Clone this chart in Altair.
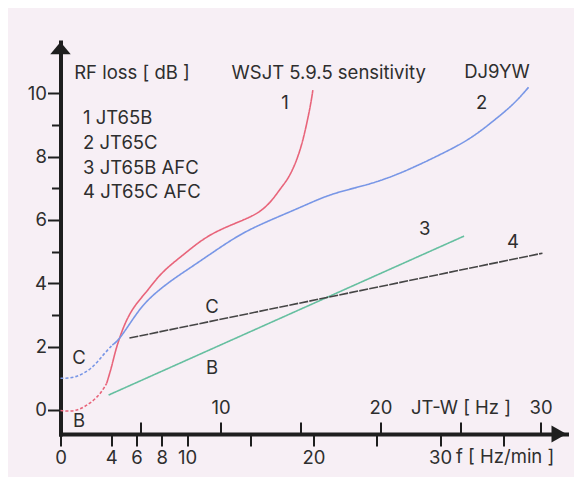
import altair as alt
import pandas as pd

# ---------------- data ----------------
# curve 1 : JT65B (red), dashed start then solid
RED_DASH_F = [0.0, 0.9, 1.6, 2.3, 3.1, 3.65]
RED_DASH_V = [-0.02, -0.05, 0.03, 0.2, 0.47, 0.84]
RED_F = [3.65, 4.05, 4.3, 4.6, 5.1, 5.7, 6.4, 7.1, 7.7, 8.6, 9.5, 11.1, 12.6, 14.5, 15.8, 16.7, 17.4, 18.0, 18.6, 19.1, 19.5, 19.8, 19.95]
RED_V = [0.84, 1.37, 1.8, 2.2, 2.75, 3.2, 3.55, 3.88, 4.2, 4.55, 4.83, 5.36, 5.7, 6.0, 6.25, 6.6, 7.0, 7.3, 7.8, 8.4, 9.1, 9.7, 10.1]
# curve 2 : JT65C (blue)
BLUE_DASH_F = [0.0, 0.6, 1.2, 1.8, 2.4, 3.0, 3.5, 4.1]
BLUE_DASH_V = [1.0, 1.0, 1.04, 1.15, 1.3, 1.55, 1.8, 2.05]
BLUE_F = [4.1, 4.6, 5.6, 6.3, 7.1, 8.6, 10.3, 12.2, 14.3, 16.6, 19.0, 21.4, 24.3, 26.9, 29.6, 32.3, 34.3, 35.9, 37.0]
BLUE_V = [2.05, 2.2, 2.8, 3.2, 3.56, 4.05, 4.5, 5.02, 5.58, 6.0, 6.4, 6.84, 7.1, 7.47, 7.98, 8.52, 9.15, 9.68, 10.19]
# curve 3 : JT65B AFC (green)
GREEN_F = [3.8, 31.9]
GREEN_V = [0.47, 5.49]
# curve 4 : JT65C AFC (dark grey)
GREY_F = [5.45, 38.1]
GREY_V = [2.27, 4.95]

CURVES = ["1", "2", "3", "4"]
CURVE_COLORS = ["#e8647a", "#7896e6", "#66bfa0", "#454545"]

# axes
F_TICKS = [0, 4, 6, 8, 10, 15, 20, 25, 30, 35]
F_LABELLED = [0, 4, 6, 8, 10, 20, 30]
F_TITLE = "f [ Hz/min ]"
F_TITLE_AT = 35.15
HZ_TICKS = [5, 10, 15, 20, 25, 30]
HZ_TITLE = "JT-W [ Hz ]"
Y_TICKS = [0, 2, 3, 4, 5, 6, 7, 8, 9, 10]
X_DOMAIN = [0, 40]
HZ_DOMAIN = [0, 31.625]
Y_DOMAIN = [-0.76, 11.62]

# annotations
CENTER_TEXT = ["RF loss [ dB ]", "WSJT 5.9.5 sensitivity", "DJ9YW", "1", "2", "3", "4", "C", "B", "C", "B"]
CENTER_F = [5.65, 21.2, 34.5, 17.75, 33.3, 28.8, 35.77, 1.46, 1.46, 11.98, 11.98]
CENTER_V = [10.64, 10.64, 10.68, 9.70, 9.70, 5.72, 5.31, 1.64, -0.35, 3.25, 1.33]
LEGEND_TEXT = ["1 JT65B", "2 JT65C", "3 JT65B AFC", "4 JT65C AFC"]
LEGEND_F = [1.78, 1.78, 1.78, 1.78]
LEGEND_V = [9.22, 8.43, 7.64, 6.89]

FONT = "Inter"
FS = 18.5
TXT = "#2e2e2e"
AX = "#1e1e1e"
BG = "#f7eff5"
TICK = 12
PAD = 2

# ---------------- tables ----------------
rows = []
def add(seg, curve, style, fs, vs):
    for i, (f, v) in enumerate(zip(fs, vs)):
        rows.append({"seg": seg, "curve": curve, "style": style, "i": i, "f": f, "v": v})

add("1d", "1", "dash", RED_DASH_F, RED_DASH_V)
add("1s", "1", "solid", RED_F, RED_V)
add("2d", "2", "dash", BLUE_DASH_F, BLUE_DASH_V)
add("2s", "2", "solid", BLUE_F, BLUE_V)
add("3s", "3", "solid", GREEN_F, GREEN_V)
add("4s", "4", "fine", GREY_F, GREY_V)
lines_df = pd.DataFrame(rows)

center_df = pd.DataFrame({"t": CENTER_TEXT, "f": CENTER_F, "v": CENTER_V})
legend_df = pd.DataFrame({"t": LEGEND_TEXT, "f": LEGEND_F, "v": LEGEND_V})
ftitle_df = pd.DataFrame({"t": [F_TITLE], "f": [F_TITLE_AT], "v": [Y_DOMAIN[0]]})
hz_df = pd.DataFrame({"hz": HZ_TICKS})
arrow_up_df = pd.DataFrame({"f": [X_DOMAIN[0]], "v": [Y_DOMAIN[1]]})
arrow_right_df = pd.DataFrame({"f": [X_DOMAIN[1]], "v": [Y_DOMAIN[0]]})

# ---------------- scales / axes ----------------
xs = alt.Scale(domain=X_DOMAIN, nice=False, zero=False)
ys = alt.Scale(domain=Y_DOMAIN, nice=False, zero=False)

f_show_expr = " || ".join(f"datum.value == {h}" for h in F_LABELLED)
x_axis = alt.Axis(
    values=F_TICKS,
    labelExpr=f"({f_show_expr}) ? datum.label : ''",
    title=None, grid=False,
    domainColor=AX, domainWidth=4, domainCap="square",
    tickColor=AX, tickWidth=2, tickSize=TICK,
    labelFont=FONT, labelFontSize=FS, labelColor=TXT, labelPadding=PAD,
    labelOverlap=False, labelFlush=False, labelBound=False,
)
y_axis = alt.Axis(
    values=Y_TICKS,
    labelExpr="datum.value % 2 == 1 ? '' : datum.label",
    title=None, grid=False,
    domainColor=AX, domainWidth=4, domainCap="square",
    tickColor=AX, tickWidth=2,
    tickSize={"condition": {"test": "datum.value % 2 == 1", "value": 9}, "value": 13},
    labelFont=FONT, labelFontSize=FS, labelColor=TXT, labelPadding=1,
    labelOverlap=False, labelFlush=False, labelBound=False,
)
hz_axis = alt.Axis(
    orient="top", offset=-392,
    values=HZ_TICKS,
    labelExpr=f"datum.value == 25 ? '{HZ_TITLE}' : (datum.value % 10 == 0 ? datum.label : '')",
    title=None, grid=False, domain=False,
    tickColor=AX, tickWidth=2, tickSize=TICK,
    labelFont=FONT, labelFontSize=FS, labelColor=TXT, labelPadding=5,
    labelOverlap=False, labelFlush=False, labelBound=False,
)

# ---------------- layers ----------------
lines = alt.Chart(lines_df).mark_line(strokeWidth=1.6, interpolate="basis").encode(
    x=alt.X("f:Q", scale=xs, axis=x_axis),
    y=alt.Y("v:Q", scale=ys, axis=y_axis),
    color=alt.Color("curve:N", scale=alt.Scale(domain=CURVES, range=CURVE_COLORS), legend=None),
    strokeDash=alt.StrokeDash("style:N", scale=alt.Scale(domain=["solid", "dash", "fine"],
                                                         range=[[1, 0], [3, 2], [9, 1.2]]), legend=None),
    detail="seg:N",
    order="i:Q",
)

center_text = alt.Chart(center_df).mark_text(font=FONT, fontSize=FS, color=TXT, align="center", baseline="middle").encode(
    x=alt.X("f:Q", scale=xs), y=alt.Y("v:Q", scale=ys), text="t:N")
legend_text = alt.Chart(legend_df).mark_text(font=FONT, fontSize=FS, color=TXT, align="left", baseline="middle").encode(
    x=alt.X("f:Q", scale=xs), y=alt.Y("v:Q", scale=ys), text="t:N")
ftitle_text = alt.Chart(ftitle_df).mark_text(font=FONT, fontSize=FS, color=TXT, align="center", baseline="top",
                                             dy=TICK + PAD).encode(
    x=alt.X("f:Q", scale=xs), y=alt.Y("v:Q", scale=ys), text="t:N")

arrow_up = alt.Chart(arrow_up_df).mark_point(shape="M0,0L-1,1.2L1,1.2Z", size=420, filled=True, color=AX, opacity=1).encode(
    x=alt.X("f:Q", scale=xs), y=alt.Y("v:Q", scale=ys))
arrow_right = alt.Chart(arrow_right_df).mark_point(shape="M0,0L-1.5,-0.85L-1.5,0.85Z", size=400, filled=True, color=AX, opacity=1).encode(
    x=alt.X("f:Q", scale=xs), y=alt.Y("v:Q", scale=ys))

inner = alt.layer(lines, center_text, legend_text, ftitle_text, arrow_up, arrow_right)

hz_layer = alt.Chart(hz_df).mark_point(opacity=0).encode(
    x=alt.X("hz:Q", scale=alt.Scale(domain=HZ_DOMAIN, nice=False, zero=False), axis=hz_axis))

chart = alt.layer(inner, hz_layer).resolve_scale(x="independent").properties(
    width=506, height=392,
    padding={"left": 52.5, "top": 34, "right": 7.5, "bottom": 43},
    autosize=alt.AutoSizeParams(type="none"),
    background=BG,
).configure_view(stroke=None)

chart.save("out.html", embed_options={"renderer": "svg", "actions": False})
